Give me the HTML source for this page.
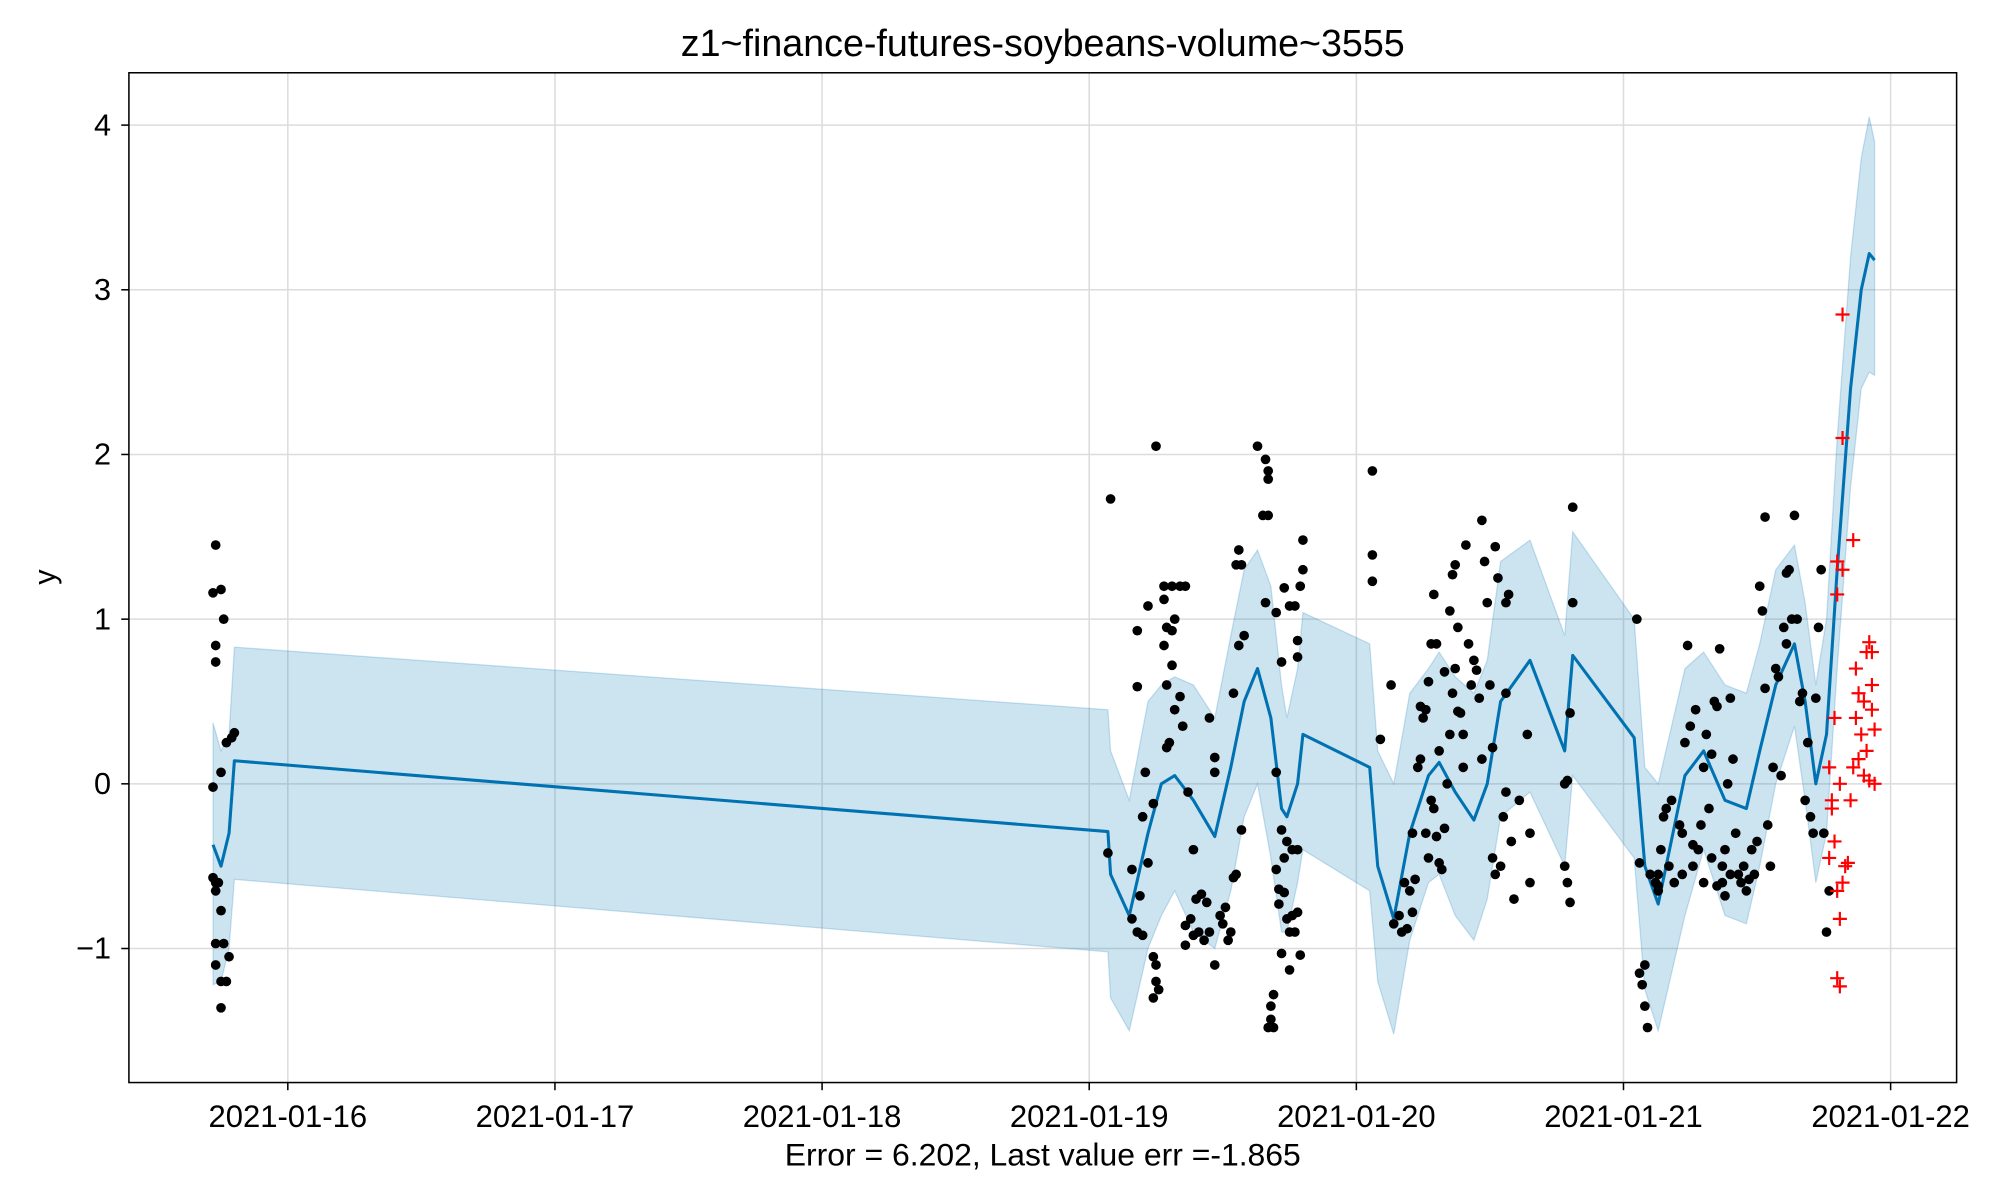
<!DOCTYPE html>
<html><head><meta charset="utf-8"><style>
html,body{margin:0;padding:0;background:#fff}
svg{display:block}
text{font-family:"Liberation Sans","DejaVu Sans",sans-serif;fill:#000}
</style></head><body>
<svg id="chart" width="2000" height="1200" viewBox="0 0 1567 940" preserveAspectRatio="none" xmlns="http://www.w3.org/2000/svg">
<rect width="1567" height="940" fill="#fff"/>
<text x="817" y="44" font-size="29.5" text-anchor="middle">z1~finance-futures-soybeans-volume~3555</text>
<g id="grid"></g>
<g id="band"></g>
<g id="line"></g>
<g id="pts"></g>
<g id="fut"></g>
<rect x="101" y="57" width="1432" height="791" fill="none" stroke="#000" stroke-width="1.2"/>
<g id="xt"></g>
<g id="yt"></g>
<text x="43" y="452" font-size="24" text-anchor="middle" transform="rotate(-90 43 452)">y</text>
<text x="817" y="913" font-size="25" text-anchor="middle">Error = 6.202, Last value err =-1.865</text>
</svg>
<script>
const xTickLabels=["2021-01-16","2021-01-17","2021-01-18","2021-01-19","2021-01-20","2021-01-21","2021-01-22"];
const xTickDays=[0,1,2,3,4,5,6];
const yTickVals=[-1,0,1,2,3,4];
const yTickLabels=["\u22121","0","1","2","3","4"];
const fcDays=[-0.28,-0.25,-0.22,-0.2,3.07,3.08,3.15,3.22,3.27,3.32,3.39,3.47,3.53,3.58,3.63,3.68,3.72,3.74,3.78,3.8,4.05,4.08,4.14,4.2,4.27,4.31,4.37,4.44,4.49,4.54,4.65,4.78,4.81,5.04,5.08,5.13,5.23,5.3,5.38,5.46,5.51,5.57,5.64,5.68,5.72,5.76,5.8,5.85,5.89,5.92,5.94];
const fcMid=[-0.37,-0.5,-0.3,0.14,-0.29,-0.55,-0.8,-0.3,0.0,0.05,-0.1,-0.32,0.1,0.5,0.7,0.4,-0.15,-0.2,0.0,0.3,0.1,-0.5,-0.82,-0.3,0.05,0.13,-0.05,-0.22,0.0,0.5,0.75,0.2,0.78,0.28,-0.5,-0.73,0.05,0.2,-0.1,-0.15,0.2,0.6,0.85,0.5,0.0,0.3,1.3,2.4,3.0,3.22,3.18];
const fcUpper=[0.37,0.2,0.3,0.83,0.45,0.2,-0.1,0.5,0.6,0.65,0.6,0.4,0.9,1.3,1.42,1.2,0.6,0.4,0.7,1.04,0.85,0.2,0.0,0.55,0.7,0.8,0.65,0.55,0.75,1.35,1.48,0.9,1.53,1.0,0.1,0.0,0.7,0.8,0.6,0.55,0.85,1.3,1.45,1.1,0.6,1.0,2.1,3.2,3.8,4.05,3.9];
const fcLower=[-1.22,-1.2,-1.0,-0.58,-1.02,-1.3,-1.5,-1.0,-0.8,-0.65,-0.9,-1.0,-0.65,-0.2,0.0,-0.45,-0.9,-0.9,-0.6,-0.4,-0.65,-1.2,-1.52,-0.95,-0.6,-0.55,-0.8,-0.95,-0.7,-0.2,-0.05,-0.5,0.05,-0.45,-1.25,-1.5,-0.8,-0.4,-0.8,-0.85,-0.5,0.0,0.35,-0.1,-0.6,-0.3,0.7,1.8,2.4,2.5,2.48];
const obs=[[-0.28,1.16],[-0.27,1.45],[-0.27,0.84],[-0.27,0.74],[-0.25,1.18],[-0.24,1.0],[-0.28,-0.02],[-0.25,0.07],[-0.23,0.25],[-0.21,0.28],[-0.2,0.31],[-0.28,-0.57],[-0.27,-0.6],[-0.27,-0.65],[-0.26,-0.6],[-0.25,-0.77],[-0.27,-0.97],[-0.24,-0.97],[-0.27,-1.1],[-0.25,-1.2],[-0.23,-1.2],[-0.22,-1.05],[-0.25,-1.36],
[3.08,1.73],[3.07,-0.42],[3.25,2.05],[3.18,0.93],[3.18,0.59],[3.21,0.07],[3.2,-0.2],[3.16,-0.52],[3.19,-0.68],[3.16,-0.82],[3.18,-0.9],[3.2,-0.92],[3.24,-1.05],[3.25,-1.1],[3.25,-1.2],[3.26,-1.25],[3.24,-1.3],[3.22,-0.48],[3.24,-0.12],[3.22,1.08],[3.28,1.2],[3.31,1.2],[3.34,1.2],[3.36,1.2],[3.28,1.12],[3.29,0.95],[3.31,0.93],[3.28,0.84],[3.32,1.0],[3.29,0.6],[3.3,0.25],[3.29,0.22],[3.32,0.45],[3.34,0.53],[3.35,0.35],[3.31,0.72],[3.37,-0.05],[3.39,-0.4],[3.36,-0.86],[3.38,-0.82],[3.39,-0.92],[3.36,-0.98],[3.4,-0.7],[3.42,-0.67],[3.44,-0.72],[3.41,-0.9],[3.43,-0.95],[3.45,-0.9],[3.47,-1.1],[3.49,-0.8],[3.5,-0.85],[3.52,-0.95],[3.53,-0.9],[3.51,-0.75],[3.54,-0.57],[3.55,-0.55],[3.57,-0.28],[3.47,0.07],[3.47,0.16],[3.45,0.4],[3.54,0.55],[3.56,0.84],[3.58,0.9],[3.55,1.33],[3.57,1.33],[3.56,1.42],[3.63,2.05],[3.66,1.97],[3.67,1.9],[3.67,1.85],[3.65,1.63],[3.67,1.63],[3.66,1.1],[3.7,1.04],[3.72,0.74],[3.73,1.19],[3.75,1.08],[3.77,1.08],[3.79,1.2],[3.8,1.3],[3.8,1.48],[3.78,0.87],[3.78,0.77],[3.7,0.07],[3.73,-0.45],[3.72,-0.28],[3.74,-0.35],[3.76,-0.4],[3.78,-0.4],[3.7,-0.52],[3.71,-0.64],[3.74,-0.82],[3.76,-0.8],[3.78,-0.78],[3.75,-0.9],[3.77,-0.9],[3.79,-1.04],[3.72,-1.03],[3.75,-1.13],[3.69,-1.28],[3.68,-1.35],[3.68,-1.43],[3.69,-1.48],[3.67,-1.48],[3.71,-0.73],[3.73,-0.66],
[4.06,1.9],[4.06,1.39],[4.06,1.23],[4.09,0.27],[4.13,0.6],[4.18,-0.6],[4.16,-0.8],[4.14,-0.85],[4.17,-0.9],[4.19,-0.88],[4.21,-0.78],[4.2,-0.65],[4.22,-0.58],[4.21,-0.3],[4.23,0.1],[4.24,0.15],[4.25,0.4],[4.26,0.45],[4.27,0.62],[4.28,0.85],[4.29,1.15],[4.28,-0.1],[4.29,-0.15],[4.3,-0.32],[4.27,-0.45],[4.31,-0.48],[4.32,-0.52],[4.33,-0.27],[4.34,0.0],[4.35,0.3],[4.36,0.55],[4.37,0.7],[4.38,0.95],[4.35,1.05],[4.36,1.27],[4.37,1.33],[4.38,0.44],[4.39,0.43],[4.4,0.3],[4.4,0.1],[4.41,1.45],[4.42,0.85],[4.43,0.6],[4.44,0.75],[4.45,0.69],[4.46,0.52],[4.47,0.15],[4.47,1.6],[4.48,1.35],[4.49,1.1],[4.5,0.6],[4.51,0.22],[4.52,1.44],[4.53,1.25],[4.51,-0.45],[4.52,-0.55],[4.54,-0.5],[4.55,-0.2],[4.56,-0.05],[4.56,1.1],[4.57,1.15],[4.56,0.55],[4.58,-0.35],[4.59,-0.7],[4.61,-0.1],[4.64,0.3],[4.65,-0.3],[4.65,-0.6],[4.31,0.2],[4.33,0.68],[4.3,0.85],[4.24,0.47],[4.26,-0.3],[4.79,-0.6],[4.8,-0.72],[4.79,0.02],[4.8,0.43],[4.81,1.1],[4.81,1.68],[4.78,-0.5],[4.78,0.0],
[5.05,1.0],[5.06,-0.48],[5.06,-1.15],[5.07,-1.22],[5.08,-1.35],[5.09,-1.48],[5.08,-1.1],[5.1,-0.55],[5.12,-0.6],[5.13,-0.65],[5.13,-0.55],[5.14,-0.4],[5.15,-0.2],[5.16,-0.15],[5.17,-0.5],[5.18,-0.1],[5.19,-0.6],[5.21,-0.25],[5.22,-0.3],[5.23,0.25],[5.24,0.84],[5.25,0.35],[5.26,-0.37],[5.27,0.45],[5.28,-0.4],[5.29,-0.25],[5.3,0.1],[5.31,0.3],[5.32,-0.15],[5.33,0.18],[5.34,0.5],[5.35,0.47],[5.36,0.82],[5.37,-0.5],[5.37,-0.6],[5.38,-0.4],[5.39,0.0],[5.4,0.52],[5.41,0.15],[5.42,-0.3],[5.43,-0.55],[5.44,-0.6],[5.45,-0.5],[5.46,-0.65],[5.47,-0.58],[5.48,-0.4],[5.49,-0.55],[5.5,-0.35],[5.51,1.2],[5.52,1.05],[5.53,0.58],[5.54,-0.25],[5.55,-0.5],[5.56,0.1],[5.57,0.7],[5.58,0.65],[5.59,0.05],[5.6,0.95],[5.61,1.28],[5.61,0.85],[5.62,1.3],[5.63,1.0],[5.64,1.63],[5.53,1.62],[5.65,1.0],[5.66,0.5],[5.67,0.55],[5.68,-0.1],[5.69,0.25],[5.7,-0.2],[5.71,-0.3],[5.72,0.52],[5.73,0.95],[5.74,1.3],[5.75,-0.3],[5.76,-0.9],[5.77,-0.65],[5.3,-0.6],[5.33,-0.45],[5.4,-0.55],[5.35,-0.62],[5.38,-0.68],[5.13,-0.62],[5.22,-0.55],[5.26,-0.5]];
const fut=[[5.82,2.85],[5.82,2.1],[5.86,1.48],[5.8,1.35],[5.82,1.3],[5.8,1.15],[5.92,0.86],[5.91,0.8],[5.93,0.8],[5.87,0.7],[5.93,0.6],[5.88,0.55],[5.9,0.5],[5.93,0.45],[5.79,0.4],[5.87,0.4],[5.89,0.3],[5.94,0.33],[5.91,0.2],[5.88,0.15],[5.86,0.1],[5.77,0.1],[5.9,0.05],[5.92,0.02],[5.94,0.0],[5.81,0.0],[5.78,-0.1],[5.85,-0.1],[5.79,-0.35],[5.77,-0.45],[5.84,-0.48],[5.82,-0.6],[5.8,-0.65],[5.81,-0.82],[5.8,-1.18],[5.81,-1.23],[5.78,-0.15],[5.83,-0.5]];

const NS="http://www.w3.org/2000/svg";
const X=d=>225.5+d*209.3, Y=v=>614-v*129;
function mk(tag,attrs,parent){const e=document.createElementNS(NS,tag);for(const k in attrs)e.setAttribute(k,attrs[k]);parent.appendChild(e);return e;}
const grid=document.getElementById('grid'),xt=document.getElementById('xt'),yt=document.getElementById('yt');
xTickDays.forEach((d,i)=>{
  const g=mk('line',{x1:X(d),x2:X(d),y1:57,y2:848,stroke:'#dcdcdc','stroke-width':1.2},grid);
  
  
  const t=mk('line',{x1:X(d),x2:X(d),y1:848,y2:854,stroke:'#000','stroke-width':1.2},xt);
  
  
  const l=mk('text',{x:X(d),y:883,'font-size':24.3,'text-anchor':'middle'},xt);l.textContent=xTickLabels[i];
  
  
});
yTickVals.forEach((v,i)=>{
  const g=mk('line',{x1:101,x2:1533,y1:Y(v),y2:Y(v),stroke:'#dcdcdc','stroke-width':1.2},grid);
  
  
  const t=mk('line',{x1:95,x2:101,y1:Y(v),y2:Y(v),stroke:'#000','stroke-width':1.2},yt);
  
  
  const l=mk('text',{x:87,y:Y(v)+8,'font-size':24,'text-anchor':'end'},yt);l.textContent=yTickLabels[i];
  
  
});
let pu=fcDays.map((d,i)=>X(d)+','+Y(fcUpper[i]));
let pl=fcDays.map((d,i)=>X(d)+','+Y(fcLower[i])).reverse();
const band=mk('polygon',{points:pu.concat(pl).join(' '),fill:'#0072B2','fill-opacity':0.2,stroke:'#0072B2','stroke-opacity':0.2,'stroke-width':1},document.getElementById('band'));


const ln=mk('polyline',{points:fcDays.map((d,i)=>X(d)+','+Y(fcMid[i])).join(' '),fill:'none',stroke:'#0072B2','stroke-width':2.4,'stroke-linejoin':'round'},document.getElementById('line'));


const pg=document.getElementById('pts');
obs.forEach(p=>{const c=mk('circle',{cx:X(p[0]),cy:Y(p[1]),r:3.8,fill:'#000'},pg);
  
  });
const fg=document.getElementById('fut');
fut.forEach(p=>{const x=X(p[0]),y=Y(p[1]);
  const e=mk('path',{d:`M${x-5.5},${y}H${x+5.5}M${x},${y-5.5}V${y+5.5}`,stroke:'#f00','stroke-width':1.7,fill:'none'},fg);
  
  });
</script>
</body></html>
